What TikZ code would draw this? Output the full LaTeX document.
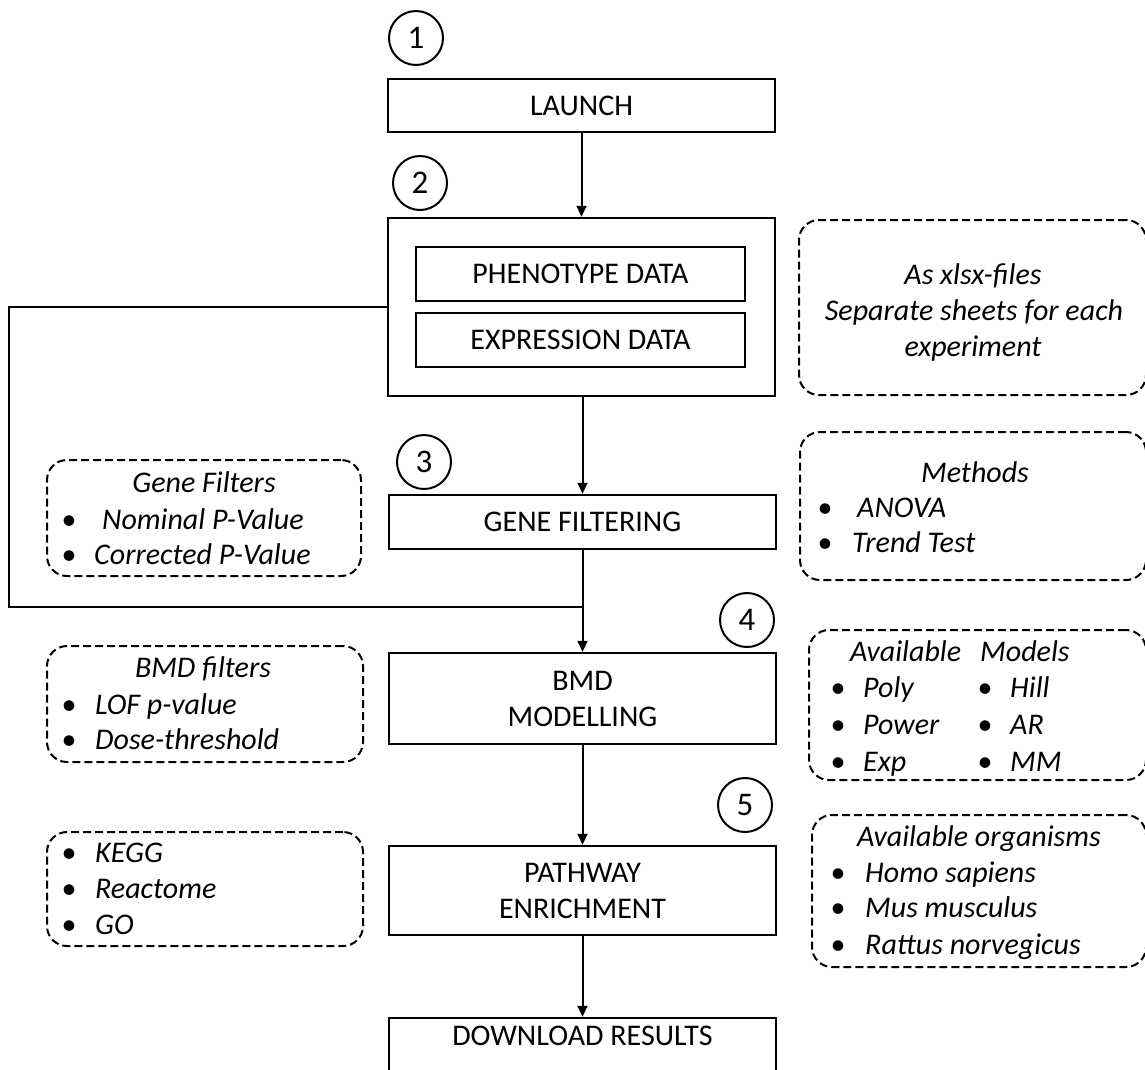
\documentclass[tikz,border=0pt]{standalone}
\usepackage{fontspec}
\setmainfont{Carlito}
\usetikzlibrary{arrows.meta}
\begin{document}
\begin{tikzpicture}[x=1pt,y=-1pt,
  stepbox/.style={draw,line width=2.5pt,inner sep=0pt,align=center,
    font=\fontsize{30}{36}\selectfont,minimum width=387pt},
  dbox/.style={draw,line width=2pt,dash pattern=on 8pt off 4pt,rounded corners=20pt,inner sep=0pt},
  numc/.style={draw,circle,line width=2pt,minimum size=54pt,inner sep=0pt,font=\fontsize{33}{33}\selectfont},
  txt/.style={inner sep=0pt,text height=19.5pt,text depth=0pt,font=\fontsize{30}{36}\selectfont\itshape},
  bul/.style={inner sep=0pt,text height=19.5pt,text depth=0pt,font=\fontsize{30}{36}\selectfont},
  arr/.style={line width=2pt,-{Triangle[length=11pt,width=10pt]}},
  conn/.style={line width=2.2pt}]
\useasboundingbox (0,0) rectangle (1145,1069);
\clip (0,0) rectangle (1145,1069);

% main flow boxes
\node[stepbox,minimum height=53pt] (launch) at (581.5,105.5) {LAUNCH};
\node[stepbox,minimum height=178pt] (data) at (581.5,307) {};
\node[stepbox,minimum width=329pt,minimum height=54pt] (pheno) at (580.5,274) {PHENOTYPE DATA};
\node[stepbox,minimum width=329pt,minimum height=54pt] (expr) at (580.5,340) {EXPRESSION DATA};
\node[stepbox,minimum height=54pt] (genef) at (582.5,522) {GENE FILTERING};
\node[stepbox,minimum height=91pt] (bmd) at (582.5,698.5) {BMD\\MODELLING};
\node[stepbox,minimum height=89pt] (path) at (582.5,890.5) {PATHWAY\\ENRICHMENT};
\node[stepbox,minimum height=60pt,text height=19.5pt,text depth=25.5pt] (dl) at (582.5,1048) {DOWNLOAD RESULTS};

% step numbers
\node[numc] (n1) at (416,38) {1};
\node[numc] (n2) at (420,183) {2};
\node[numc] (n3) at (424,462) {3};
\node[numc] (n4) at (747,620) {4};
\node[numc] (n5) at (745,805) {5};

% connectors
\coordinate (corner) at (9,607);
\coordinate (join) at (582.5,607);
\draw[arr] (launch.south) -- (data.north);
\draw[arr] (data.south -| genef.north) -- (genef.north);
\draw[arr] (genef.south) -- (bmd.north);
\draw[conn] (data.west) -| (corner) -- (join);
\draw[arr] (bmd.south) -- (path.north);
\draw[arr] (path.south) -- (dl.north);

% left dashed boxes
\node[dbox,minimum width=314pt,minimum height=116pt] (gfb) at (204,518) {};
\node[txt] (gft) at (204,483) {Gene Filters};
\node[bul] (gfb1) at (69,520) {•};
\node[txt,anchor=west] (gf1) at (102,520) {Nominal P-Value};
\node[bul] (gfb2) at (69,555) {•};
\node[txt,anchor=west] (gf2) at (94,555) {Corrected P-Value};

\node[dbox,minimum width=316pt,minimum height=116pt] (bfb) at (205,704) {};
\node[txt] (bft) at (203,668) {BMD filters};
\node[bul] (bfb1) at (69,705) {•};
\node[txt,anchor=west] (bf1) at (95,705) {LOF p-value};
\node[bul] (bfb2) at (69,740) {•};
\node[txt,anchor=west] (bf2) at (95,740) {Dose-threshold};

\node[dbox,minimum width=316pt,minimum height=114pt] (kgb) at (205,889) {};
\node[bul] (kgb1) at (69,853) {•};
\node[txt,anchor=west] (kg1) at (95,853) {KEGG};
\node[bul] (kgb2) at (69,889) {•};
\node[txt,anchor=west] (kg2) at (95,889) {Reactome};
\node[bul] (kgb3) at (69,925) {•};
\node[txt,anchor=west] (kg3) at (95,925) {GO};

% right dashed boxes
\node[dbox,minimum width=347pt,minimum height=175pt] (xlb) at (972.5,307.5) {};
\node[txt] (xl1) at (973,275) {As xlsx-files};
\node[txt] (xl2) at (974,311) {Separate sheets for each};
\node[txt] (xl3) at (973,347) {experiment};

\node[dbox,minimum width=346pt,minimum height=148pt] (mtb) at (973,506) {};
\node[txt] (mtt) at (975,473) {Methods};
\node[bul] (mtb1) at (825,508) {•};
\node[txt,anchor=west] (mt1) at (857,508) {ANOVA};
\node[bul] (mtb2) at (825,543) {•};
\node[txt,anchor=west] (mt2) at (852,543) {Trend Test};

\node[dbox,minimum width=337pt,minimum height=150pt] (mdb) at (977.5,705) {};
\node[txt,anchor=west] (mdt1) at (850,652) {Available};
\node[txt,anchor=west] (mdt2) at (980,652) {Models};
\node[bul] (mdb1) at (838,688) {•};
\node[txt,anchor=west] (md1) at (863,688) {Poly};
\node[bul] (mdb2) at (838,725) {•};
\node[txt,anchor=west] (md2) at (863,725) {Power};
\node[bul] (mdb3) at (838,762) {•};
\node[txt,anchor=west] (md3) at (863,762) {Exp};
\node[bul] (mdb4) at (985,688) {•};
\node[txt,anchor=west] (md4) at (1010,688) {Hill};
\node[bul] (mdb5) at (985,725) {•};
\node[txt,anchor=west] (md5) at (1010,725) {AR};
\node[bul] (mdb6) at (985,762) {•};
\node[txt,anchor=west] (md6) at (1010,762) {MM};

\node[dbox,minimum width=334pt,minimum height=152pt] (orb) at (979,891) {};
\node[txt,anchor=west] (ort) at (857,837) {Available organisms};
\node[bul] (orb1) at (838,873) {•};
\node[txt,anchor=west] (or1) at (865,873) {Homo sapiens};
\node[bul] (orb2) at (838,908) {•};
\node[txt,anchor=west] (or2) at (865,908) {Mus musculus};
\node[bul] (orb3) at (838,945) {•};
\node[txt,anchor=west] (or3) at (865,945) {Rattus norvegicus};
\end{tikzpicture}
\end{document}
